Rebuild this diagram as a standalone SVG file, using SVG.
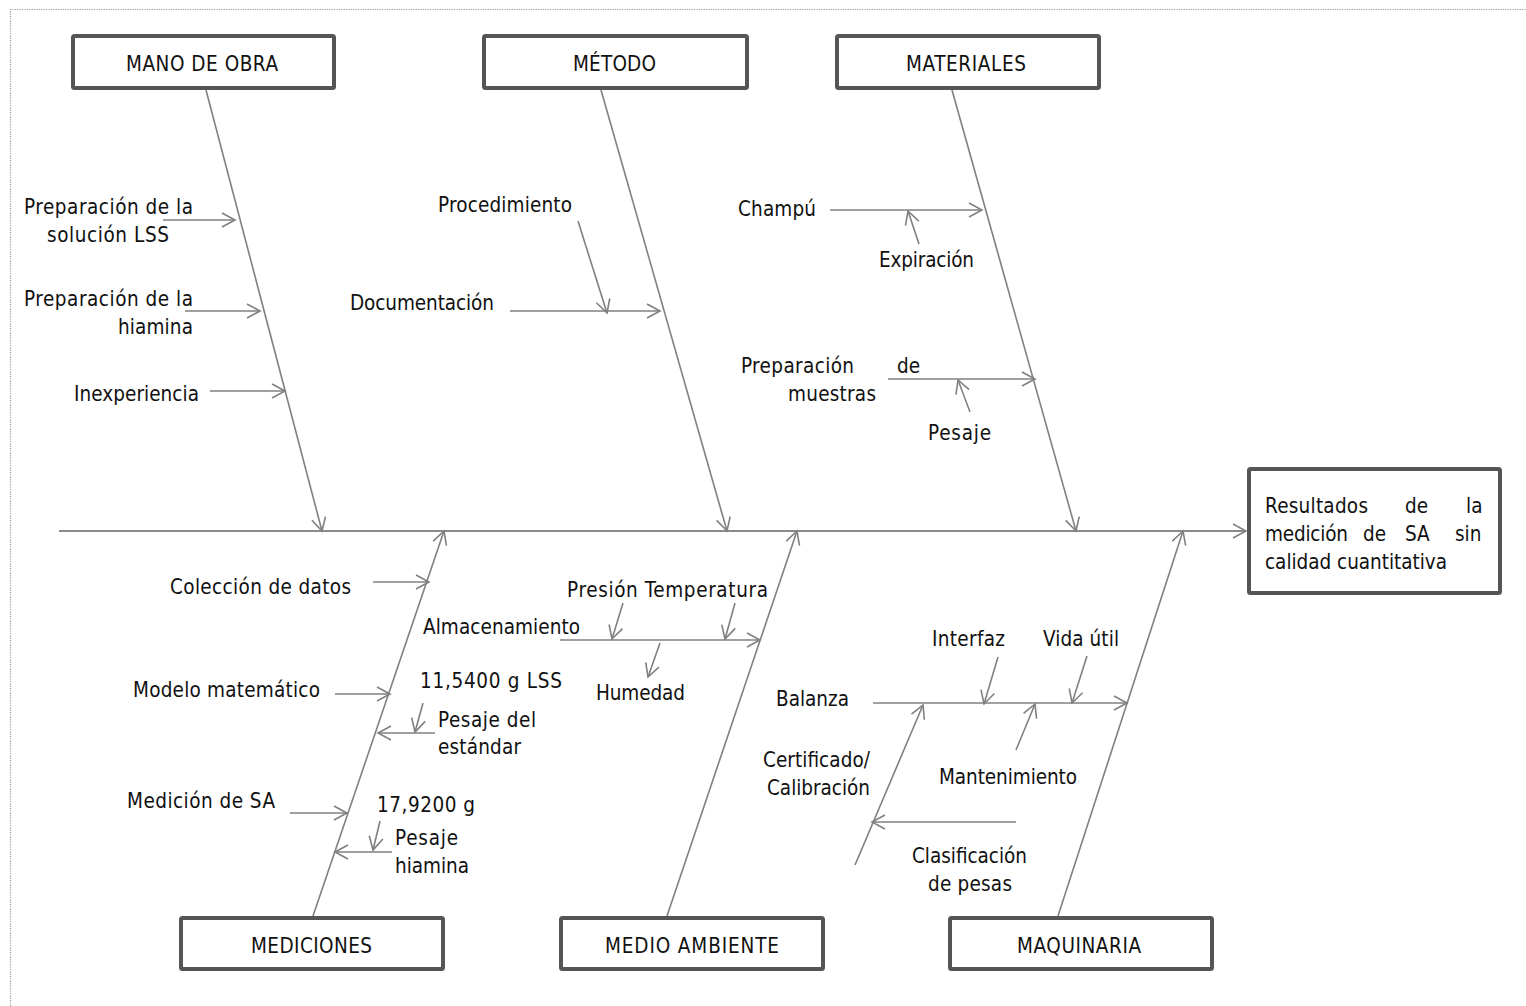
<svg xmlns="http://www.w3.org/2000/svg" width="1526" height="1006" viewBox="0 0 1526 1006">
  <defs>
    <marker id="arr" markerUnits="userSpaceOnUse" markerWidth="20" markerHeight="20" viewBox="-16 -10 20 20" refX="0" refY="0" orient="auto">
      <path d="M-13,-7 L0,0 L-13,7" fill="none" stroke="#808080" stroke-width="1.6"/>
    </marker>
    <style>
      text { font-family: "DejaVu Sans Condensed", "DejaVu Sans", Verdana, sans-serif; font-stretch: condensed; font-size: 20.5px; fill: #111111; }
      .box { fill: #ffffff; stroke: #555555; stroke-width: 4; }
      .bone { stroke: #808080; stroke-width: 1.6; fill: none; }
      .spine { stroke: #8a8a8a; stroke-width: 2.2; fill: none; }
      .frame { stroke: #9a9a9a; stroke-width: 1.2; stroke-dasharray: 1.2 1.2; fill: none; }
    </style>
  </defs>

  <rect width="1526" height="1006" fill="#ffffff"/>

  <!-- page frame -->
  <path class="frame" d="M10.5,1006 L10.5,9.5 L1526,9.5"/>

  <!-- connectors -->
  <g id="connectors">
    <line class="spine" x1="59" y1="531" x2="1246" y2="531" marker-end="url(#arr)"/>

    <!-- main bones -->
    <line class="bone" x1="206" y1="90" x2="322" y2="531" marker-end="url(#arr)"/>
    <line class="bone" x1="601" y1="90" x2="727" y2="531" marker-end="url(#arr)"/>
    <line class="bone" x1="952" y1="90" x2="1076" y2="531" marker-end="url(#arr)"/>
    <line class="bone" x1="313" y1="916" x2="444" y2="531" marker-end="url(#arr)"/>
    <line class="bone" x1="667" y1="916" x2="797" y2="531" marker-end="url(#arr)"/>
    <line class="bone" x1="1058" y1="916" x2="1183" y2="531" marker-end="url(#arr)"/>

    <!-- Mano de obra causes -->
    <line class="bone" x1="163" y1="220" x2="235" y2="220" marker-end="url(#arr)"/>
    <line class="bone" x1="185" y1="311" x2="260" y2="311" marker-end="url(#arr)"/>
    <line class="bone" x1="210" y1="391" x2="285" y2="391" marker-end="url(#arr)"/>

    <!-- Método causes -->
    <line class="bone" x1="578" y1="221" x2="607" y2="313" marker-end="url(#arr)"/>
    <line class="bone" x1="510" y1="311" x2="660" y2="311" marker-end="url(#arr)"/>

    <!-- Materiales causes -->
    <line class="bone" x1="830" y1="210" x2="982" y2="210" marker-end="url(#arr)"/>
    <line class="bone" x1="919" y1="244" x2="908" y2="211" marker-end="url(#arr)"/>
    <line class="bone" x1="888" y1="379" x2="1035" y2="379" marker-end="url(#arr)"/>
    <line class="bone" x1="970" y1="412" x2="958" y2="380" marker-end="url(#arr)"/>

    <!-- Mediciones causes -->
    <line class="bone" x1="373" y1="582" x2="429" y2="582" marker-end="url(#arr)"/>
    <line class="bone" x1="335" y1="694" x2="390" y2="694" marker-end="url(#arr)"/>
    <line class="bone" x1="423" y1="703" x2="415" y2="732" marker-end="url(#arr)"/>
    <line class="bone" x1="435" y1="733" x2="378" y2="733" marker-end="url(#arr)"/>
    <line class="bone" x1="290" y1="813" x2="347" y2="813" marker-end="url(#arr)"/>
    <line class="bone" x1="380" y1="821" x2="373" y2="850" marker-end="url(#arr)"/>
    <line class="bone" x1="392" y1="852" x2="335" y2="852" marker-end="url(#arr)"/>

    <!-- Medio ambiente causes -->
    <line class="bone" x1="560" y1="640" x2="760" y2="640" marker-end="url(#arr)"/>
    <line class="bone" x1="623" y1="603" x2="612" y2="639" marker-end="url(#arr)"/>
    <line class="bone" x1="735" y1="603" x2="725" y2="639" marker-end="url(#arr)"/>
    <line class="bone" x1="660" y1="643" x2="648" y2="677" marker-end="url(#arr)"/>

    <!-- Maquinaria causes -->
    <line class="bone" x1="873" y1="703" x2="1127" y2="703" marker-end="url(#arr)"/>
    <line class="bone" x1="998" y1="657" x2="984" y2="704" marker-end="url(#arr)"/>
    <line class="bone" x1="1087" y1="656" x2="1072" y2="703" marker-end="url(#arr)"/>
    <line class="bone" x1="1016" y1="750" x2="1035" y2="704" marker-end="url(#arr)"/>
    <line class="bone" x1="855" y1="865" x2="923" y2="705" marker-end="url(#arr)"/>
    <line class="bone" x1="1016" y1="822" x2="872" y2="822" marker-end="url(#arr)"/>
  </g>

  <!-- category boxes -->
  <g id="mano-de-obra">
    <rect class="box" x="73" y="36" width="261" height="52" rx="1.5"/>
    <text x="126" y="71" textLength="152">MANO DE OBRA</text>
  </g>
  <g id="metodo">
    <rect class="box" x="484" y="36" width="263" height="52" rx="1.5"/>
    <text x="573" y="71" textLength="83">MÉTODO</text>
  </g>
  <g id="materiales">
    <rect class="box" x="837" y="36" width="262" height="52" rx="1.5"/>
    <text x="906" y="71" textLength="120">MATERIALES</text>
  </g>
  <g id="mediciones">
    <rect class="box" x="181" y="918" width="262" height="51" rx="1.5"/>
    <text x="251" y="953" textLength="121">MEDICIONES</text>
  </g>
  <g id="medio-ambiente">
    <rect class="box" x="561" y="918" width="262" height="51" rx="1.5"/>
    <text x="605" y="953" textLength="174">MEDIO AMBIENTE</text>
  </g>
  <g id="maquinaria">
    <rect class="box" x="950" y="918" width="262" height="51" rx="1.5"/>
    <text x="1017" y="953" textLength="124">MAQUINARIA</text>
  </g>

  <!-- effect box -->
  <g id="resultado">
    <rect class="box" x="1249" y="469" width="251" height="124" rx="1.5"/>
    <text y="513"><tspan x="1265" textLength="103">Resultados</tspan><tspan x="1405">de</tspan><tspan x="1466">la</tspan></text>
    <text y="541"><tspan x="1265" textLength="83">medición</tspan><tspan x="1363">de</tspan><tspan x="1405">SA</tspan><tspan x="1455">sin</tspan></text>
    <text x="1265" y="569" textLength="182">calidad cuantitativa</text>
  </g>

  <!-- Mano de obra causes -->
  <g id="causas-mano-de-obra">
    <text x="24" y="214" textLength="169">Preparación de la</text>
    <text x="47" y="242" textLength="122">solución LSS</text>
    <text x="24" y="306" textLength="169">Preparación de la</text>
    <text x="118" y="334" textLength="75">hiamina</text>
    <text x="74" y="401" textLength="125">Inexperiencia</text>
  </g>

  <!-- Método causes -->
  <g id="causas-metodo">
    <text x="438" y="212" textLength="134">Procedimiento</text>
    <text x="350" y="310" textLength="144">Documentación</text>
  </g>

  <!-- Materiales causes -->
  <g id="causas-materiales">
    <text x="738" y="216" textLength="78">Champú</text>
    <text x="879" y="267" textLength="95">Expiración</text>
    <text y="373"><tspan x="741" textLength="113">Preparación</tspan><tspan x="897">de</tspan></text>
    <text x="788" y="401" textLength="88">muestras</text>
    <text x="928" y="440" textLength="63">Pesaje</text>
  </g>

  <!-- Mediciones causes -->
  <g id="causas-mediciones">
    <text x="170" y="594" textLength="181">Colección de datos</text>
    <text x="133" y="697" textLength="187">Modelo matemático</text>
    <text x="420" y="688" textLength="142">11,5400 g LSS</text>
    <text x="438" y="727" textLength="98">Pesaje del</text>
    <text x="438" y="754" textLength="83">estándar</text>
    <text x="127" y="808" textLength="148">Medición de SA</text>
    <text x="377" y="812" textLength="98">17,9200 g</text>
    <text x="395" y="845" textLength="63">Pesaje</text>
    <text x="395" y="873" textLength="74">hiamina</text>
  </g>

  <!-- Medio ambiente causes -->
  <g id="causas-medio-ambiente">
    <text x="567" y="597" textLength="201">Presión Temperatura</text>
    <text x="423" y="634" textLength="157">Almacenamiento</text>
    <text x="596" y="700" textLength="89">Humedad</text>
  </g>

  <!-- Maquinaria causes -->
  <g id="causas-maquinaria">
    <text x="932" y="646" textLength="73">Interfaz</text>
    <text x="1043" y="646" textLength="76">Vida útil</text>
    <text x="776" y="706" textLength="73">Balanza</text>
    <text x="763" y="767" textLength="107">Certificado/</text>
    <text x="767" y="795" textLength="103">Calibración</text>
    <text x="939" y="784" textLength="138">Mantenimiento</text>
    <text x="912" y="863" textLength="115">Clasificación</text>
    <text x="928" y="891" textLength="84">de pesas</text>
  </g>
</svg>
